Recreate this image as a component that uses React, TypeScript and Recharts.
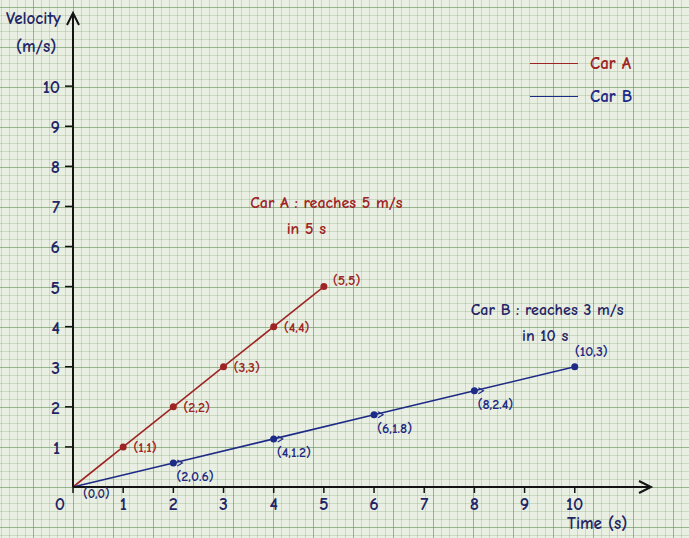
import { LineChart, Line, XAxis, YAxis, ReferenceDot, Legend } from 'recharts';

const carATime = [0, 1, 2, 3, 4, 5];
const carAVelocity = [0, 1, 2, 3, 4, 5];
const carBTime = [0, 2, 4, 6, 8, 10];
const carBVelocity = [0, 0.6, 1.2, 1.8, 2.4, 3];
const xTicks = [0, 1, 2, 3, 4, 5, 6, 7, 8, 9, 10];
const yTicks = [1, 2, 3, 4, 5, 6, 7, 8, 9, 10];

const carAData = carATime.map((t, i) => ({ t, v: carAVelocity[i] }));
const carBData = carBTime.map((t, i) => ({ t, v: carBVelocity[i] }));

const RED = '#9e2424';
const BLUE = '#1d2a86';
const INK = '#1f2566';
const FONT = '"Comic Neue", "Open Sans", "DejaVu Sans", sans-serif';

const makeDot = (color: string, place: 'right' | 'below') => (props: any) => {
  const { cx, cy, index, payload } = props;
  const label = `(${payload.t},${payload.v})`;
  if (index === 0) {
    if (place === 'below') return <g key={`d${index}`} />;
    return (
      <text key={`d${index}`} x={cx + 10} y={cy + 11} fill={INK} fontSize={13} fontFamily={FONT} fontWeight={600}>
        {label}
      </text>
    );
  }
  const last = index === carBData.length - 1;
  let dx = 10;
  let dy = 5;
  if (place === 'below') {
    dx = last ? 0 : 3;
    dy = last ? -11 : 18;
  } else if (index === carAData.length - 1) {
    dx = 9;
    dy = -2;
  }
  return (
    <g key={`d${index}`}>
      <circle cx={cx} cy={cy} r={3.5} fill={color} />
      {place === 'below' && !last && (
        <path d={`M${cx + 4},${cy - 3} L${cx + 9},${cy} L${cx + 4},${cy + 3}`} stroke={color} fill="none" strokeWidth={1.2} />
      )}
      <text x={cx + dx} y={cy + dy} fill={color} fontSize={14} fontFamily={FONT} fontWeight={600}>
        {label}
      </text>
    </g>
  );
};

const XTick = (props: any) => {
  const { x, y, payload } = props;
  const zero = payload.value === 0;
  return (
    <text x={zero ? x - 13 : x} y={y + 15} textAnchor="middle" fill={INK} fontSize={18} fontFamily={FONT} fontWeight={600}>
      {payload.value}
    </text>
  );
};

const YTick = (props: any) => {
  const { x, y, payload } = props;
  return (
    <text x={x - 3} y={y + 7} textAnchor="end" fill={INK} fontSize={18} fontFamily={FONT} fontWeight={600}>
      {payload.value}
    </text>
  );
};

const LegendBox = () => (
  <div style={{ fontFamily: FONT, fontSize: 17, fontWeight: 600 }}>
    <div style={{ display: 'flex', alignItems: 'center', height: 33 }}>
      <span style={{ display: 'inline-block', width: 48, height: 1.5, background: RED, marginRight: 12 }} />
      <span style={{ color: RED }}>Car A</span>
    </div>
    <div style={{ display: 'flex', alignItems: 'center', height: 33 }}>
      <span style={{ display: 'inline-block', width: 48, height: 1.5, background: BLUE, marginRight: 12 }} />
      <span style={{ color: BLUE }}>Car B</span>
    </div>
  </div>
);

const Note = (lines: string[], color: string, offsets: number[]) => (props: any) => {
  const { cx, cy } = props;
  return (
    <g>
      {lines.map((l, i) => (
        <text key={i} x={cx + offsets[i]} y={cy + i * 26} textAnchor="middle" fill={color} fontSize={16} fontFamily={FONT} fontWeight={600}>
          {l}
        </text>
      ))}
    </g>
  );
};

const titleStyle = { position: 'absolute' as const, color: INK, fontFamily: FONT, fontSize: 17, fontWeight: 600 };

export default function App() {
  const w = 689;
  const h = 538;
  return (
    <div
      style={{
        position: 'absolute',
        left: 0,
        top: 0,
        width: w,
        height: h,
        backgroundColor: '#e9efe2',
        backgroundImage:
          'linear-gradient(to right, rgba(100,145,90,0.5) 1px, transparent 1px),' +
          'linear-gradient(to bottom, rgba(100,145,90,0.5) 1px, transparent 1px),' +
          'linear-gradient(to right, rgba(130,165,120,0.3) 1px, transparent 1px),' +
          'linear-gradient(to bottom, rgba(130,165,120,0.3) 1px, transparent 1px)',
        backgroundSize: '40px 40px, 40px 40px, 8px 8px, 8px 8px',
        backgroundPosition: '33px 7px, 33px 7px, 1px 7px, 1px 7px',
      }}
    >
      <div style={{ ...titleStyle, left: 6, top: 9 }}>Velocity</div>
      <div style={{ ...titleStyle, left: 16, top: 37 }}>(m/s)</div>
      <div style={{ ...titleStyle, left: 567, top: 514 }}>Time (s)</div>
      <LineChart width={w} height={h} margin={{ top: 14, right: 39, bottom: 0, left: 0 }}>
        <XAxis
          type="number"
          dataKey="t"
          domain={[0, 11.5]}
          ticks={xTicks}
          height={51}
          axisLine={{ stroke: '#141414', strokeWidth: 2 }}
          tickLine={{ stroke: '#141414', strokeWidth: 1.5 }}
          tickSize={6}
          tick={<XTick />}
        />
        <YAxis
          type="number"
          dataKey="v"
          domain={[0, 11.8]}
          ticks={yTicks}
          width={73}
          axisLine={{ stroke: '#141414', strokeWidth: 2 }}
          tickLine={{ stroke: '#141414', strokeWidth: 1.5 }}
          tickSize={8}
          tick={<YTick />}
        />
        <Legend
          layout="vertical"
          align="center"
          verticalAlign="middle"
          content={<LegendBox />}
          wrapperStyle={{ top: 47, left: 530, width: 130 }}
        />
        <Line
          data={carAData}
          dataKey="v"
          name="Car A"
          stroke={RED}
          strokeWidth={1.6}
          dot={makeDot(RED, 'right')}
          activeDot={false}
          isAnimationActive={false}
        />
        <Line
          data={carBData}
          dataKey="v"
          name="Car B"
          stroke={BLUE}
          strokeWidth={1.6}
          dot={makeDot(BLUE, 'below')}
          activeDot={false}
          isAnimationActive={false}
        />
        <ReferenceDot x={5.05} y={6.95} r={0} ifOverflow="visible" shape={Note(['Car A : reaches  5 m/s', 'in 5 s'], RED, [0, -20])} />
        <ReferenceDot x={9.45} y={4.3} r={0} ifOverflow="visible" shape={Note(['Car B : reaches 3 m/s', 'in 10 s'], INK, [0, -2])} />
        <ReferenceDot
          x={11.5}
          y={0}
          r={0}
          ifOverflow="visible"
          shape={(p: any) => (
            <path d={`M${p.cx - 11},${p.cy - 6} L${p.cx + 1},${p.cy} L${p.cx - 11},${p.cy + 6}`} stroke="#141414" strokeWidth={2} fill="none" />
          )}
        />
        <ReferenceDot
          x={0}
          y={11.8}
          r={0}
          ifOverflow="visible"
          shape={(p: any) => (
            <path d={`M${p.cx - 6},${p.cy + 11} L${p.cx},${p.cy - 1} L${p.cx + 6},${p.cy + 11}`} stroke="#141414" strokeWidth={2} fill="none" />
          )}
        />
      </LineChart>
    </div>
  );
}
